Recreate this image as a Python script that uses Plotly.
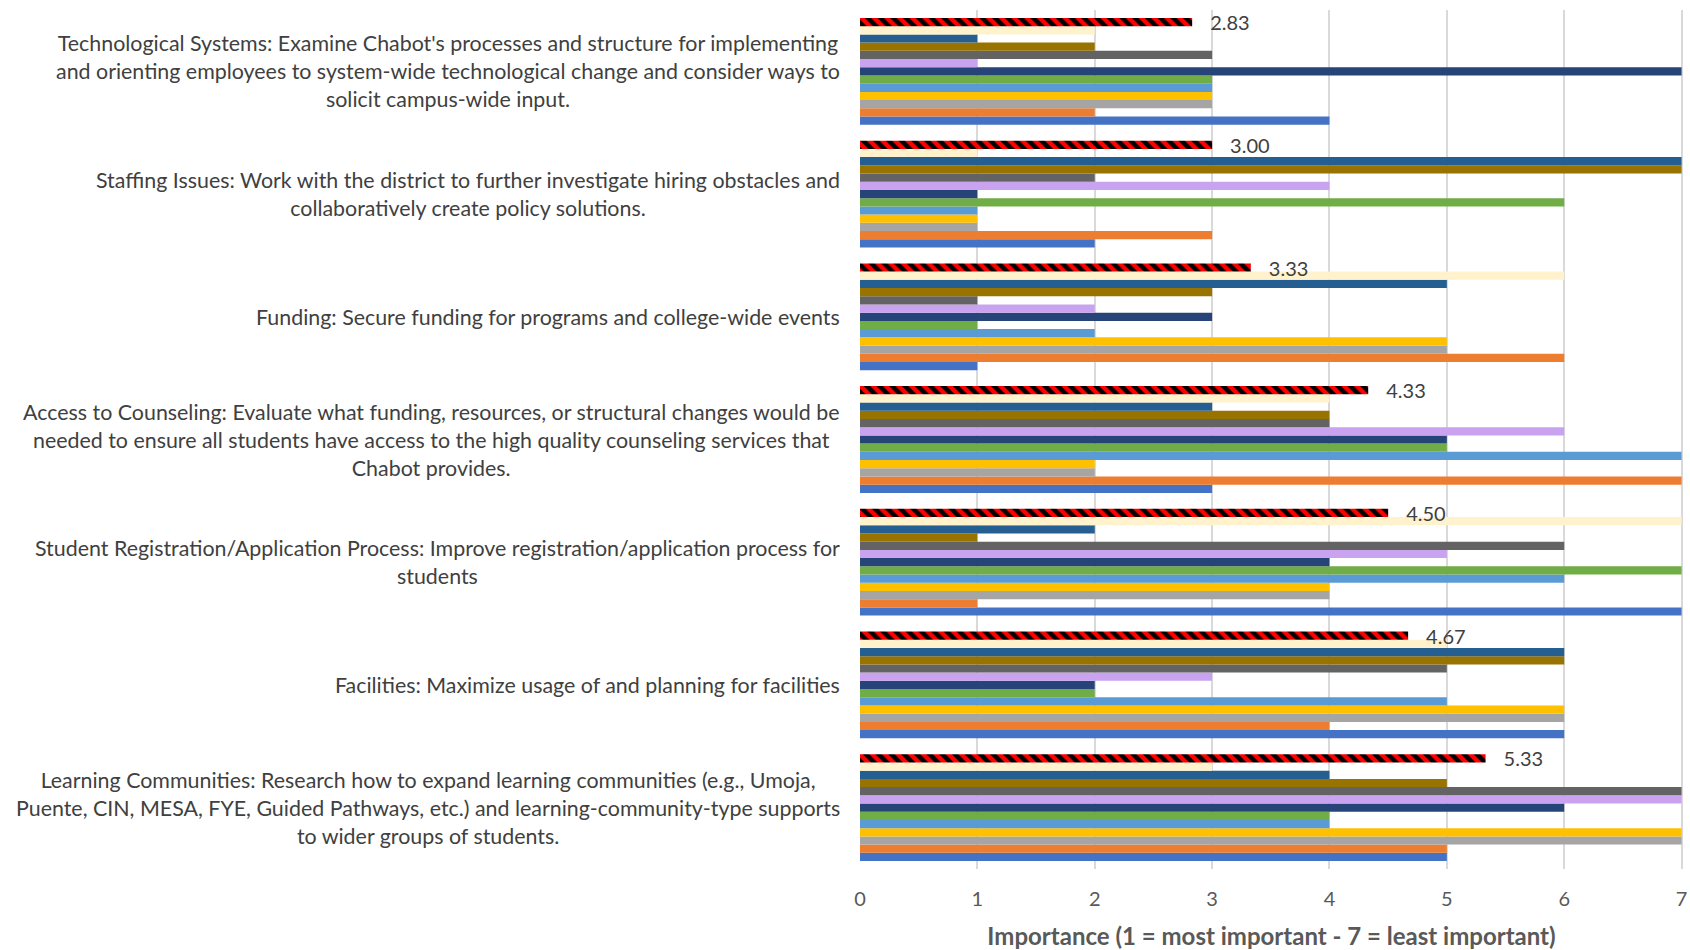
import plotly.graph_objects as go

# Categories, bottom to top
categories = [
    "Learning Communities: Research how to expand learning communities (e.g., Umoja,<br>Puente, CIN, MESA, FYE, Guided Pathways, etc.) and learning-community-type supports<br>to wider groups of students.",
    "Facilities: Maximize usage of and planning for facilities",
    "Student Registration/Application Process: Improve registration/application process for<br>students",
    "Access to Counseling: Evaluate what funding, resources, or structural changes would be<br>needed to ensure all students have access to the high quality counseling services that<br>Chabot provides.",
    "Funding: Secure funding for programs and college-wide events",
    "Staffing Issues: Work with the district to further investigate hiring obstacles and<br>collaboratively create policy solutions.",
    "Technological Systems: Examine Chabot's processes and structure for implementing<br>and orienting employees to system-wide technological change and consider ways to<br>solicit campus-wide input.",
]

# Respondent rankings (same order as categories)
r01 = [5, 6, 7, 3, 1, 2, 4]
r02 = [5, 4, 1, 7, 6, 3, 2]
r03 = [7, 6, 4, 2, 5, 1, 3]
r04 = [7, 6, 4, 2, 5, 1, 3]
r05 = [4, 5, 6, 7, 2, 1, 3]
r06 = [4, 2, 7, 5, 1, 6, 3]
r07 = [6, 2, 4, 5, 3, 1, 7]
r08 = [7, 3, 5, 6, 2, 4, 1]
r09 = [7, 5, 6, 4, 1, 2, 3]
r10 = [5, 6, 1, 4, 3, 7, 2]
r11 = [4, 6, 2, 3, 5, 7, 1]
r12 = [3, 5, 7, 4, 6, 1, 2]
average = [5.33, 4.67, 4.50, 4.33, 3.33, 3.00, 2.83]

respondents = [r01, r02, r03, r04, r05, r06, r07, r08, r09, r10, r11, r12]
colors = ["#4472C4", "#ED7D31", "#A5A5A5", "#FFC000", "#5B9BD5", "#70AD47",
          "#264478", "#C9A3F0", "#636363", "#997300", "#255E91", "#FFF2CC"]

x_ticks = [0, 1, 2, 3, 4, 5, 6, 7]
x_title = "Importance (1 = most important - 7 = least important)"

fig = go.Figure()
for i, (vals, col) in enumerate(zip(respondents, colors)):
    fig.add_trace(go.Bar(
        x=vals, y=categories, orientation="h", name=f"R{i+1}",
        marker=dict(color=col, line=dict(width=0)),
        hoverinfo="skip",
    ))

fig.add_trace(go.Bar(
    x=average, y=categories, orientation="h", name="Average",
    marker=dict(color="#FF0000", line=dict(width=0),
                pattern=dict(shape="\\", fgcolor="#000000", bgcolor="#FF0000",
                             size=9, solidity=0.5, fillmode="replace")),
    text=[f"{v:.2f}" for v in average],
    texttemplate="\u2003%{text}",
    textposition="outside",
    constraintext="none",
    cliponaxis=False,
    outsidetextfont=dict(family="Lato", size=20, color="#404040"),
    hoverinfo="skip",
))

for cat in categories:
    fig.add_annotation(
        x=0, xref="paper", y=cat, yref="y",
        text=cat, showarrow=False, xanchor="right", yanchor="middle",
        align="center", xshift=-18,
        font=dict(family="Lato", size=21.4, color="#404040"),
    )

fig.update_layout(
    width=1690, height=950,
    paper_bgcolor="white", plot_bgcolor="white",
    margin=dict(l=860, r=7, t=10, b=81),
    barmode="group", bargap=0.13, bargroupgap=0,
    showlegend=False,
    xaxis=dict(
        range=[0, 7.012], tickvals=x_ticks, ticktext=[str(t) for t in x_ticks],
        showgrid=True, gridcolor="#D9D9D9", gridwidth=2,
        zeroline=False, showline=False,
        ticks="outside", ticklen=12, tickcolor="rgba(0,0,0,0)",
        ticklabeloverflow="allow",
        tickfont=dict(family="Lato", size=20, color="#595959"),
        title=dict(text="<b>" + x_title + "</b>", standoff=19,
                   font=dict(family="Lato", size=24, color="#595959")),
        automargin=False,
    ),
    yaxis=dict(
        categoryorder="array", categoryarray=categories,
        showticklabels=False, showgrid=False, zeroline=False, showline=False,
        automargin=False,
    ),
)

fig.write_html("out.html")
